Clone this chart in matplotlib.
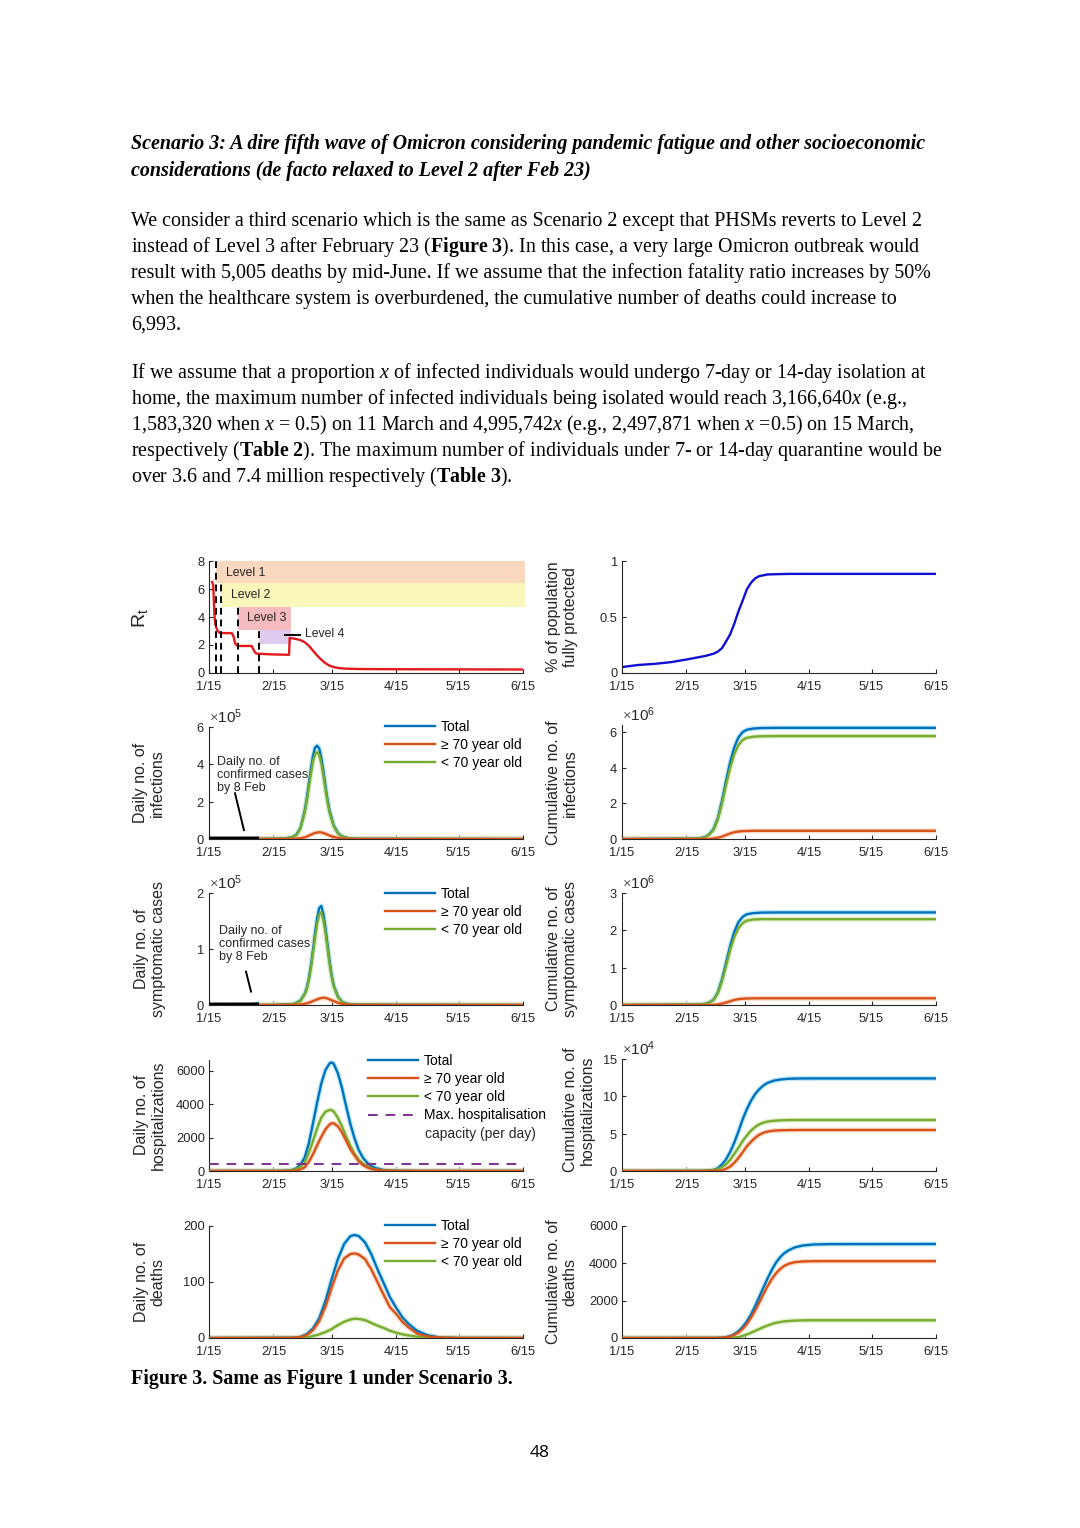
import matplotlib
matplotlib.use("Agg")
import matplotlib.pyplot as plt
from matplotlib.ticker import ScalarFormatter
import numpy as np

plt.rcParams['font.family'] = 'Liberation Sans'
plt.rcParams['mathtext.fontset'] = 'custom'
plt.rcParams['mathtext.rm'] = 'Liberation Serif'
plt.rcParams['mathtext.it'] = 'Liberation Serif:italic'
plt.rcParams['mathtext.bf'] = 'Liberation Serif:bold'
plt.rcParams['mathtext.sf'] = 'Liberation Sans'

# ---------------- data (days since 15 Jan) ----------------
tick_days = [0, 31, 59, 90, 120, 151]
tick_labels = ['1/15', '2/15', '3/15', '4/15', '5/15', '6/15']

# effective reproduction number
rt_days = [1.5, 2.0, 2.6, 3.0, 3.6, 4.2, 5.0, 6.0, 11.0, 11.8, 12.6, 13.5, 14.5, 20.5, 21.3,
           22.2, 23.0, 30, 38.5, 38.8, 40, 42, 44, 46, 48, 50, 52, 54, 56, 58, 60, 63, 67,
           75, 90, 120, 151]
rt_vals = [6.5, 6.3, 4.2, 3.5, 3.2, 3.0, 2.88, 2.85, 2.85, 2.6, 2.1, 1.95, 1.93, 1.93, 1.7,
           1.45, 1.38, 1.33, 1.3, 2.5, 2.48, 2.42, 2.35, 2.2, 1.95, 1.6, 1.25, 0.95, 0.7, 0.52,
           0.42, 0.34, 0.3, 0.28, 0.27, 0.26, 0.25]

# PHSM level bands: name, start, end, low, high, colour
level_names = ['Level 1', 'Level 2', 'Level 3', 'Level 4']
level_start = [3.5, 5.9, 14.0, 23.9]
level_end = [152, 152, 39.3, 39.3]
level_low = [6.4, 4.7, 3.1, 2.1]
level_high = [8.0, 6.4, 4.7, 3.1]
level_colors = ['#F9D8BD', '#F9F6B9', '#F5BBBE', '#DFCBEE']

# fully protected proportion
prot_days = [0, 8, 16, 24, 32, 40, 44, 46, 48, 50, 52, 54, 56, 58, 60, 62, 64, 66, 70, 80, 151]
prot_vals = [0.053, 0.072, 0.082, 0.098, 0.124, 0.152, 0.172, 0.19, 0.22, 0.28, 0.345, 0.44,
             0.55, 0.645, 0.745, 0.805, 0.845, 0.865, 0.88, 0.885, 0.885]

# daily confirmed cases up to 8 Feb
conf_days = list(range(25))
conf_vals = [17, 14, 20, 33, 24, 15, 28, 124, 103, 68, 74, 60, 164, 53, 140, 100, 130, 131,
             142, 120, 180, 351, 342, 614, 625]

# daily infections (x1e5)
inf_days = [0, 30, 36, 40, 42, 44, 46, 47, 48, 49, 50, 51, 52, 53, 54, 55, 56, 57, 58, 60, 62,
            64, 67, 72, 151]
inf_total = [0, 0.01, 0.02, 0.1, 0.23, 0.6, 1.5, 2.15, 2.95, 3.75, 4.45, 4.9, 5.0, 4.85, 4.35,
             3.65, 2.85, 2.1, 1.5, 0.72, 0.32, 0.14, 0.04, 0.01, 0]
inf_old = [0, 0, 0, 0.01, 0.02, 0.04, 0.09, 0.13, 0.18, 0.23, 0.28, 0.32, 0.35, 0.36, 0.35,
           0.32, 0.28, 0.23, 0.18, 0.11, 0.06, 0.03, 0.01, 0, 0]
inf_young = [0, 0.01, 0.02, 0.09, 0.21, 0.56, 1.4, 2.0, 2.75, 3.5, 4.15, 4.55, 4.65, 4.5, 4.05,
             3.4, 2.65, 1.95, 1.4, 0.67, 0.3, 0.13, 0.04, 0.01, 0]

# cumulative infections (x1e6)
cinf_days = [0, 35, 38, 40, 42, 44, 46, 48, 50, 52, 54, 56, 58, 60, 63, 67, 75, 151]
cinf_total = [0, 0.02, 0.05, 0.11, 0.27, 0.55, 1.15, 2.1, 3.25, 4.3, 5.15, 5.7, 6.0, 6.13, 6.2,
              6.23, 6.24, 6.24]
cinf_old = [0, 0, 0, 0.005, 0.01, 0.03, 0.07, 0.13, 0.22, 0.31, 0.38, 0.42, 0.44, 0.45, 0.46,
            0.46, 0.46, 0.46]
cinf_young = [0, 0.02, 0.05, 0.1, 0.25, 0.51, 1.07, 1.95, 3.02, 3.99, 4.77, 5.28, 5.56, 5.68,
              5.74, 5.77, 5.78, 5.78]

# daily symptomatic cases (x1e5)
sym_days = [0, 30, 38, 41, 44, 46, 47, 48, 49, 50, 51, 52, 53, 54, 55, 56, 57, 58, 59, 60, 62,
            64, 66, 70, 151]
sym_total = [0, 0, 0.01, 0.02, 0.08, 0.2, 0.3, 0.47, 0.7, 0.98, 1.28, 1.55, 1.73, 1.77, 1.62,
             1.38, 1.08, 0.78, 0.53, 0.35, 0.15, 0.06, 0.025, 0.005, 0]
sym_old = [0, 0, 0, 0.005, 0.01, 0.02, 0.03, 0.04, 0.055, 0.07, 0.085, 0.1, 0.115, 0.125, 0.13,
           0.125, 0.115, 0.1, 0.085, 0.07, 0.04, 0.02, 0.01, 0, 0]
sym_young = [0, 0, 0.01, 0.02, 0.07, 0.19, 0.28, 0.44, 0.65, 0.92, 1.2, 1.45, 1.62, 1.66, 1.52,
             1.29, 1.01, 0.73, 0.5, 0.33, 0.14, 0.06, 0.02, 0.005, 0]

# cumulative symptomatic cases (x1e6)
csym_days = [0, 35, 38, 40, 42, 44, 46, 48, 50, 52, 54, 56, 58, 60, 63, 67, 75, 151]
csym_total = [0, 0.01, 0.02, 0.03, 0.07, 0.14, 0.33, 0.67, 1.12, 1.58, 1.96, 2.22, 2.36, 2.43,
              2.46, 2.475, 2.48, 2.48]
csym_old = [0, 0, 0, 0, 0.002, 0.005, 0.015, 0.035, 0.065, 0.1, 0.135, 0.157, 0.168, 0.174,
            0.178, 0.18, 0.18, 0.18]
csym_young = [0, 0.01, 0.02, 0.03, 0.065, 0.13, 0.31, 0.62, 1.04, 1.47, 1.82, 2.06, 2.19, 2.26,
              2.29, 2.30, 2.30, 2.30]

# daily hospitalisations
hosp_days = [0, 35, 40, 42, 44, 46, 48, 50, 52, 54, 56, 58, 59, 60, 62, 64, 66, 68, 70, 72, 74,
             76, 78, 80, 84, 90, 100, 151]
hosp_total = [0, 5, 60, 160, 380, 800, 1650, 2850, 4100, 5250, 6050, 6450, 6500, 6420, 5850,
              4950, 3860, 2800, 1950, 1260, 800, 500, 300, 180, 60, 15, 2, 0]
hosp_old = [0, 0, 10, 30, 100, 220, 550, 1000, 1550, 2050, 2500, 2790, 2860, 2860, 2670, 2300,
            1800, 1300, 930, 580, 360, 220, 130, 80, 25, 7, 1, 0]
hosp_young = [0, 5, 50, 120, 260, 520, 1100, 1800, 2550, 3200, 3550, 3660, 3640, 3560, 3180,
              2650, 2060, 1500, 1020, 680, 440, 280, 170, 100, 35, 8, 1, 0]
hosp_capacity = 400

# cumulative hospitalisations (x1e4)
chosp_days = [0, 38, 42, 44, 46, 48, 50, 52, 54, 56, 58, 60, 62, 64, 66, 68, 70, 73, 76, 80, 85,
              95, 151]
chosp_total = [0, 0.02, 0.07, 0.14, 0.35, 0.85, 1.55, 2.55, 3.8, 5.3, 6.9, 8.25, 9.4, 10.3,
               10.95, 11.45, 11.8, 12.1, 12.25, 12.35, 12.39, 12.4, 12.4]
chosp_old = [0, 0, 0.01, 0.02, 0.04, 0.08, 0.3, 0.6, 1.1, 1.75, 2.5, 3.3, 3.9, 4.45, 4.85, 5.12,
             5.28, 5.4, 5.45, 5.48, 5.49, 5.49, 5.49]
chosp_young = [0, 0.02, 0.06, 0.12, 0.25, 0.5, 0.9, 1.5, 2.3, 3.1, 4.0, 4.75, 5.4, 5.88, 6.25,
               6.48, 6.62, 6.73, 6.78, 6.82, 6.83, 6.83, 6.83]

# daily deaths
death_days = [0, 40, 44, 47, 50, 53, 56, 59, 62, 65, 68, 70, 72, 75, 78, 81, 84, 87, 90, 93, 96,
              100, 105, 111, 120, 151]
death_total = [0, 0.5, 2, 7, 17, 35, 66, 105, 141, 168, 182, 184, 182, 171, 150, 123, 98, 73,
               54, 37, 25, 13, 5, 1, 0.1, 0]
death_old = [0, 0.3, 1.5, 5.5, 14, 30, 56, 90, 121, 142, 150, 151, 149, 141, 123, 100, 77, 55,
             43, 29, 19, 8, 3, 0.7, 0.1, 0]
death_young = [0, 0.2, 0.5, 1.5, 3.5, 6.5, 10.5, 16, 23, 29, 33, 34.5, 34, 32, 27, 22, 18, 13,
               9.5, 6.5, 4.5, 2.5, 1, 0.3, 0, 0]

# cumulative deaths
cdeath_days = [0, 45, 48, 50, 52, 54, 56, 58, 60, 62, 64, 66, 68, 70, 72, 74, 76, 78, 80, 83,
               87, 92, 100, 151]
cdeath_total = [0, 5, 20, 45, 100, 210, 360, 590, 880, 1250, 1700, 2200, 2700, 3190, 3640, 4030,
                4320, 4540, 4690, 4850, 4955, 5010, 5030, 5035]
cdeath_old = [0, 4, 15, 35, 80, 170, 295, 490, 750, 1080, 1480, 1900, 2350, 2780, 3150, 3460,
              3690, 3860, 3970, 4060, 4100, 4115, 4120, 4120]
cdeath_young = [0, 1, 4, 8, 15, 30, 50, 110, 190, 280, 380, 480, 580, 670, 750, 810, 855, 890,
                910, 930, 945, 950, 950, 950]

# ---------------- styling ----------------
W, H = 1080, 1528
BLUE, ORANGE, GREEN, PURPLE = '#0072BD', '#D95319', '#77AC30', '#7E2F8E'
GLOW = {BLUE: '#A6E2F7', ORANGE: '#F9CDB4', GREEN: '#D3EBB2'}
DARK = '#262626'
TICK_FS, LABEL_FS, LEG_FS = 9.3, 11.5, 10

fig = plt.figure(figsize=(W / 100, H / 100), dpi=100)


def px(x, y):
    return x / W, 1 - y / H


def make_ax(l, t, r, b, ylim, yticks, ylabels=None, power=None):
    ax = fig.add_axes([l / W, 1 - b / H, (r - l) / W, (b - t) / H])
    ax.set_xlim(0, 151)
    ax.set_ylim(*ylim)
    ax.set_xticks(tick_days)
    ax.set_xticklabels(tick_labels)
    ax.set_yticks(yticks)
    if ylabels is not None:
        ax.set_yticklabels(ylabels)
    for s in ['top', 'right']:
        ax.spines[s].set_visible(False)
    for s in ['left', 'bottom']:
        ax.spines[s].set_color(DARK)
        ax.spines[s].set_linewidth(0.8)
    ax.tick_params(direction='in', length=3, width=0.8, colors=DARK, labelsize=TICK_FS)
    ax.tick_params(axis='x', pad=6)
    ax.tick_params(axis='y', pad=3)
    if power is not None:
        fmt = ScalarFormatter(useMathText=True)
        fmt.set_powerlimits((power, power))
        ax.yaxis.set_major_formatter(fmt)
        off = ax.yaxis.get_offset_text()
        off.set_fontsize(11)
        off.set_color(DARK)
        off.set_family('Liberation Sans')
    return ax


def curve(ax, x, y, color, label=None, scale=1.0):
    y = np.asarray(y, dtype=float) * scale
    ax.plot(x, y, color=GLOW[color], lw=3.6, alpha=0.7, zorder=2)
    return ax.plot(x, y, color=color, lw=1.7, label=label, zorder=3)[0]


def three(ax, x, tot, old, young, scale=1.0):
    h1 = curve(ax, x, tot, BLUE, 'Total', scale)
    h3 = curve(ax, x, young, GREEN, '< 70 year old', scale)
    h2 = curve(ax, x, old, ORANGE, '\u2265 70 year old', scale)
    return [h1, h2, h3]


def legend(ax, handles, x, y):
    ax.legend(handles=handles, loc='upper left', bbox_to_anchor=px(x, y),
              bbox_transform=fig.transFigure, frameon=False, fontsize=LEG_FS,
              handlelength=3.6, handletextpad=0.4, labelspacing=0.3,
              borderpad=0, borderaxespad=0)


def ylab(x, y, s, fs=LABEL_FS):
    fig.text(*px(x, y), s, rotation=90, ha='center', va='center', fontsize=fs,
             color=DARK, multialignment='center', linespacing=1.1)


LX0, LX1, RX0, RX1 = 209, 523, 622, 936

# ---- row 1 left: Rt ----
ax = make_ax(LX0, 561, LX1, 673, (0, 8), [0, 2, 4, 6, 8])
for name, a, b, lo, hi, c in zip(level_names, level_start, level_end, level_low, level_high,
                                 level_colors):
    ax.fill_between([a, b], lo, hi, color=c, lw=0, zorder=1, clip_on=False)
    ax.plot([a, a], [0, hi], color='black', ls=(0, (3.5, 2.5)), lw=1.4, zorder=4)
ax.plot(rt_days, rt_vals, color='#E3191C', lw=1.7, zorder=3)
ax.text(8.0, 7.15, 'Level 1', fontsize=8.8, va='center', color=DARK)
ax.text(10.8, 5.6, 'Level 2', fontsize=8.8, va='center', color=DARK)
ax.text(18.2, 3.95, 'Level 3', fontsize=8.8, va='center', color=DARK)
ax.plot([36.4, 43.6], [2.72, 2.72], color='black', lw=1.4, zorder=4)
ax.text(46.0, 2.75, 'Level 4', fontsize=8.8, va='center', color=DARK)
ylab(140, 618, r'$\mathsf{R_t}$', fs=14)

# ---- row 1 right: protected ----
ax = make_ax(RX0, 561, RX1, 673, (0, 1), [0, 0.5, 1], ['0', '0.5', '1'])
ax.plot(prot_days, prot_vals, color='#1010D0', lw=1.7)
ylab(562, 617, '% of population\nfully protected')

# ---- row 2 left: daily infections ----
ax = make_ax(LX0, 727, LX1, 839, (0, 6e5), [0, 2e5, 4e5, 6e5], power=5)
hs = three(ax, inf_days, inf_total, inf_old, inf_young, 1e5)
ax.plot(conf_days, conf_vals, color='black', lw=3.4, zorder=4, solid_capstyle='butt')
ax.plot([12.5, 16.8], [2.45e5, 0.48e5], color='black', lw=1.4)
ax.text(3.7, 3.43e5, 'Daily no. of\nconfirmed cases\nby 8 Feb', fontsize=9, va='center',
        linespacing=1.1, color=DARK)
legend(ax, hs, 385, 720)
ylab(149, 783, 'Daily no. of\ninfections')

# ---- row 2 right: cumulative infections ----
ax = make_ax(RX0, 725, RX1, 839, (0, 6.4e6), [0, 2e6, 4e6, 6e6], power=6)
three(ax, cinf_days, cinf_total, cinf_old, cinf_young, 1e6)
ylab(562, 783, 'Cumulative no. of\ninfections')

# ---- row 3 left: daily symptomatic ----
ax = make_ax(LX0, 893, LX1, 1005, (0, 2e5), [0, 1e5, 2e5], power=5)
hs = three(ax, sym_days, sym_total, sym_old, sym_young, 1e5)
ax.plot(conf_days, conf_vals, color='black', lw=3.4, zorder=4, solid_capstyle='butt')
ax.plot([17.8, 20.2], [0.595e5, 0.24e5], color='black', lw=1.4)
ax.text(5.0, 1.09e5, 'Daily no. of\nconfirmed cases\nby 8 Feb', fontsize=9, va='center',
        linespacing=1.1, color=DARK)
legend(ax, hs, 385, 887)
ylab(150, 949, 'Daily no. of\nsymptomatic cases')

# ---- row 3 right: cumulative symptomatic ----
ax = make_ax(RX0, 893, RX1, 1005, (0, 3e6), [0, 1e6, 2e6, 3e6], power=6)
three(ax, csym_days, csym_total, csym_old, csym_young, 1e6)
ylab(562, 949, 'Cumulative no. of\nsymptomatic cases')

# ---- row 4 left: daily hospitalisations ----
ax = make_ax(LX0, 1060, LX1, 1171, (0, 6650), [0, 2000, 4000, 6000])
hs = three(ax, hosp_days, hosp_total, hosp_old, hosp_young)
cap = ax.plot([0, 151], [hosp_capacity, hosp_capacity], color=PURPLE, lw=1.4,
              ls=(0, (5, 4)), zorder=4, label='Max. hospitalisation')[0]
legend(ax, hs + [cap], 368, 1054)
fig.text(*px(425, 1134), 'capacity (per day)', fontsize=LEG_FS, va='center', color=DARK)
ylab(150, 1115, 'Daily no. of\nhospitalizations')

# ---- row 4 right: cumulative hospitalisations ----
ax = make_ax(RX0, 1059, RX1, 1171, (0, 15e4), [0, 5e4, 10e4, 15e4], power=4)
three(ax, chosp_days, chosp_total, chosp_old, chosp_young, 1e4)
ylab(579, 1110, 'Cumulative no. of\nhospitalizations')

# ---- row 5 left: daily deaths ----
ax = make_ax(LX0, 1226, LX1, 1338, (0, 200), [0, 100, 200])
hs = three(ax, death_days, death_total, death_old, death_young)
legend(ax, hs, 385, 1219)
ylab(150, 1282, 'Daily no. of\ndeaths')

# ---- row 5 right: cumulative deaths ----
ax = make_ax(RX0, 1226, RX1, 1338, (0, 6000), [0, 2000, 4000, 6000])
three(ax, cdeath_days, cdeath_total, cdeath_old, cdeath_young)
ylab(562, 1282, 'Cumulative no. of\ndeaths')

# ---------------- page text ----------------
SERIF = 'Liberation Serif'
BODY_FS = 14.4
title_lines = [
    'Scenario 3: A dire fifth wave of Omicron considering pandemic fatigue and other socioeconomic',
    'considerations (de facto relaxed to Level 2 after Feb 23)',
]
for y, s in zip([149, 176], title_lines):
    fig.text(*px(131, y), s, family=SERIF, fontsize=BODY_FS, fontweight='bold', style='italic',
             va='baseline')

body_lines = [
    'We consider a third scenario which is the same as Scenario 2 except that PHSMs reverts to Level 2',
    r'instead of Level 3 after February 23 ($\mathbf{Figure\ 3}$). In this case, a very large Omicron outbreak would',
    'result with 5,005 deaths by mid-June. If we assume that the infection fatality ratio increases by 50%',
    'when the healthcare system is overburdened, the cumulative number of deaths could increase to',
    '6,993.',
    r'If we assume that a proportion $x$ of infected individuals would undergo 7-day or 14-day isolation at',
    r'home, the maximum number of infected individuals being isolated would reach 3,166,640$x$ (e.g.,',
    r'1,583,320 when $x$ = 0.5) on 11 March and 4,995,742$x$ (e.g., 2,497,871 when $x$ =0.5) on 15 March,',
    r'respectively ($\mathbf{Table\ 2}$). The maximum number of individuals under 7- or 14-day quarantine would be',
    r'over 3.6 and 7.4 million respectively ($\mathbf{Table\ 3}$).',
]
body_y = [226, 252, 278, 304, 330, 378, 404, 430, 456, 482]
for y, s in zip(body_y, body_lines):
    fig.text(*px(131, y), s, family=SERIF, fontsize=BODY_FS, va='baseline', color='black')

fig.text(*px(131, 1384), 'Figure 3. Same as Figure 1 under Scenario 3.', family=SERIF,
         fontsize=BODY_FS, fontweight='bold', va='baseline')
fig.text(*px(540, 1457), '48', fontsize=12.5, ha='center', va='baseline', family='Open Sans')

fig.savefig('out.png', dpi=100)
